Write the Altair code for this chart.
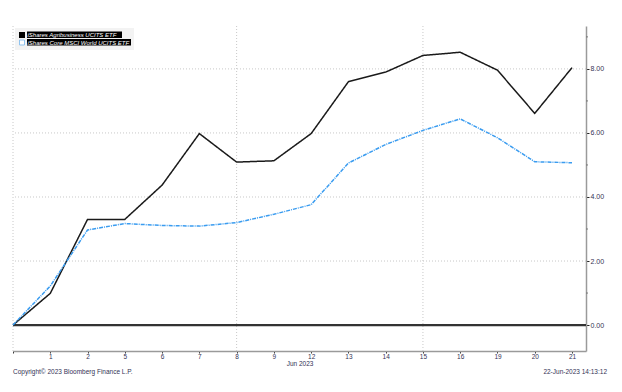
import altair as alt
import pandas as pd

# ---- data ----
day_labels = ["", "1", "2", "5", "6", "7", "8", "9", "12", "13", "14", "15", "16", "19", "20", "21"]
agri = [0.0, 0.99, 3.30, 3.30, 4.37, 5.98, 5.09, 5.13, 5.98, 7.60, 7.90, 8.42, 8.52, 7.96, 6.61, 8.04]
msci = [0.0, 1.22, 2.97, 3.17, 3.11, 3.09, 3.20, 3.46, 3.76, 5.06, 5.64, 6.08, 6.44, 5.85, 5.10, 5.07]
series_names = ["iShares Agribusiness UCITS ETF", "iShares Core MSCI World UCITS ETF"]
y_ticks = [0, 2, 4, 6, 8]
y_minor = [1, 3, 5, 7, 9]
y_grid = [2, 4, 6, 8]
x_grid = [0, 6, 11]
month_label = "Jun 2023"
copyright_text = "Copyright\u00a9 2023 Bloomberg Finance L.P."
stamp_text = "22-Jun-2023 14:13:12"

idx = list(range(len(day_labels)))
df = pd.DataFrame({
    "i": idx * 2,
    "v": agri + msci,
    "s": [series_names[0]] * len(idx) + [series_names[1]] * len(idx),
})

W, H = 573, 325
xs = alt.Scale(domain=[0, 15.375], nice=False, zero=False)
ys = alt.Scale(domain=[-0.81, 9.34], nice=False, zero=False)
FONT = "Liberation Sans"
label_arr = "[" + ",".join("'" + d + "'" for d in day_labels) + "]"

x_axis = alt.Axis(
    orient="bottom", values=idx, labelExpr=label_arr + "[datum.value]",
    grid=False, domainColor="#9a9a9a", domainWidth=1.5, tickColor="#333333",
    tickSize=2, labelFont=FONT, labelFontSize=6.5, labelColor="#333355",
    labelPadding=0, title=None)
y_axis = alt.Axis(
    orient="right", values=y_ticks, format=".2f", grid=False,
    domainColor="#9a9a9a", domainWidth=1.5, tickColor="#222222", tickSize=3,
    labelFont=FONT, labelFontSize=7, labelColor="#333355", labelPadding=1,
    title=None)


def X(f):
    return alt.X(f, scale=xs, axis=x_axis, title=None)


def Y(f):
    return alt.Y(f, scale=ys, axis=y_axis, title=None)


hgrid = alt.Chart(pd.DataFrame({"g": y_grid})).mark_rule(
    color="#c8c8c8", strokeDash=[1, 2], strokeWidth=1
).encode(y=Y("g:Q"))

vgrid = alt.Chart(pd.DataFrame({"g": x_grid})).mark_rule(
    color="#c8c8c8", strokeDash=[1, 2], strokeWidth=1
).encode(x=X("g:Q"))

minor = alt.Chart(pd.DataFrame({"m": y_minor})).mark_rule(color="#777777").encode(
    y=Y("m:Q"), x=alt.value(W), x2=alt.value(W + 2),
)

zero = alt.Chart(pd.DataFrame({"z": [0]})).mark_rule(
    color="#333333", strokeWidth=2.2
).encode(y=Y("z:Q"))

lines = alt.Chart(df).mark_line(strokeWidth=1.5).encode(
    x=X("i:Q"),
    y=Y("v:Q"),
    color=alt.Color("s:N", scale=alt.Scale(domain=series_names, range=["#1a1a1a", "#3a9cf0"]), legend=None),
    strokeDash=alt.StrokeDash("s:N", scale=alt.Scale(domain=series_names, range=[[1, 0], [4, 1, 1, 1]]), legend=None),
)

one = pd.DataFrame({"k": [0]})


def box(x1, x2, y1, y2, **kw):
    return alt.Chart(one).mark_rect(**kw).encode(
        x=alt.value(x1), x2=alt.value(x2), y=alt.value(y1), y2=alt.value(y2))


leg_bg = box(2, 121, 2, 24, color="#f3f3f3")
leg_hl1 = box(14, 109, 5.5, 12, color="#000000")
leg_hl2 = box(14, 118, 13, 19.5, color="#000000")
leg_sw1 = box(6, 12, 6, 12, color="#000000")
leg_sw2 = box(6.5, 11.5, 14, 19, fill="#ffffff", stroke="#8fc3f0", strokeWidth=1)

leg_txt1 = alt.Chart(pd.DataFrame({"t": [series_names[0]]})).mark_text(
    align="left", baseline="middle", font=FONT, fontSize=6, fontStyle="italic", color="#ffffff"
).encode(text="t:N", x=alt.value(14.5), y=alt.value(9))
leg_txt2 = alt.Chart(pd.DataFrame({"t": [series_names[1]]})).mark_text(
    align="left", baseline="middle", font=FONT, fontSize=6, fontStyle="italic", color="#ffffff"
).encode(text="t:N", x=alt.value(14.5), y=alt.value(16.5))

month = alt.Chart(pd.DataFrame({"t": [month_label]})).mark_text(
    font=FONT, fontSize=6.5, color="#333355", align="center", baseline="middle"
).encode(text="t:N", x=alt.value(287), y=alt.value(338))

copy = alt.Chart(pd.DataFrame({"t": [copyright_text]})).mark_text(
    font=FONT, fontSize=6.5, color="#333355", align="left", baseline="middle"
).encode(text="t:N", x=alt.value(0), y=alt.value(346))

stamp = alt.Chart(pd.DataFrame({"t": [stamp_text]})).mark_text(
    font=FONT, fontSize=6.5, color="#333355", align="right", baseline="middle"
).encode(text="t:N", x=alt.value(594), y=alt.value(346))

chart = alt.layer(
    hgrid, vgrid, minor, zero, lines,
    leg_bg, leg_hl1, leg_hl2, leg_sw1, leg_sw2, leg_txt1, leg_txt2, month, copy, stamp
).resolve_scale(color="independent", strokeDash="independent").properties(
    width=W, height=H,
    background="#ffffff",
    autosize=alt.AutoSizeParams(type="none"),
    padding={"left": 5, "top": 18, "right": 28, "bottom": 33},
).configure_view(stroke=None)

chart.save("out.html", embed_options={"renderer": "svg", "actions": False})
